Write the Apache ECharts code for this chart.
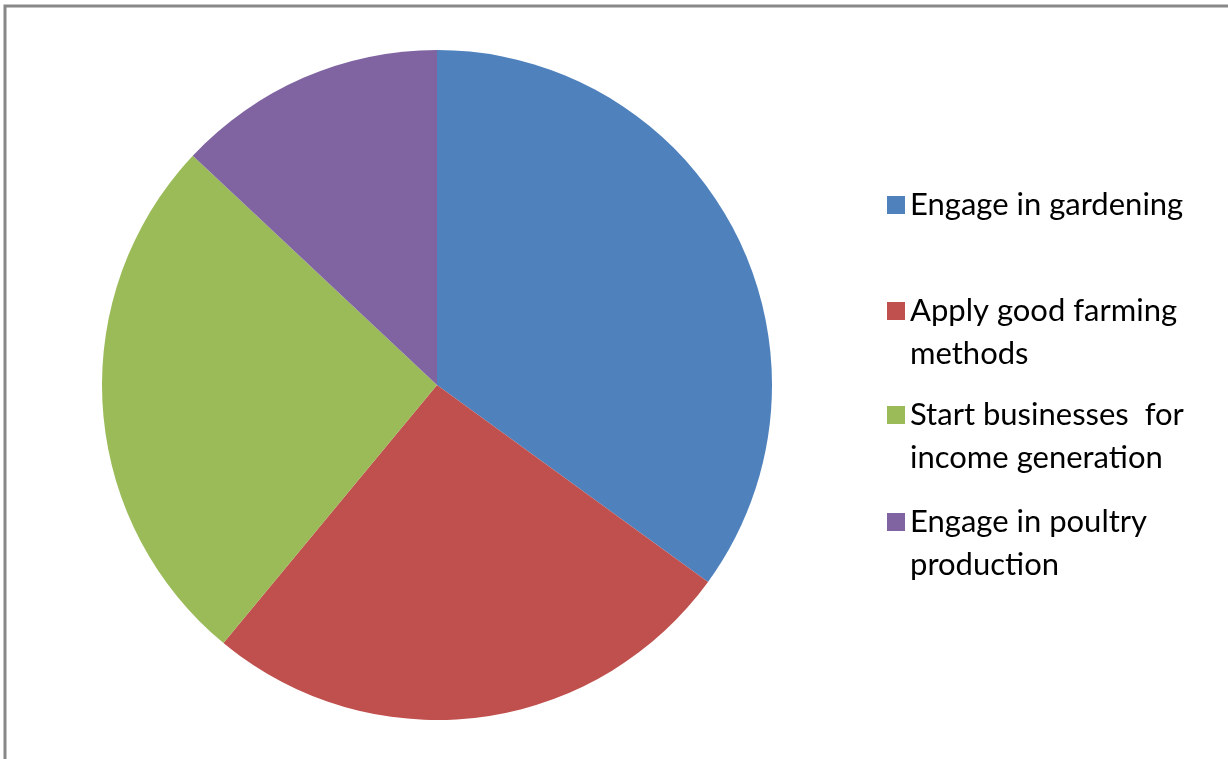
<!DOCTYPE html>
<html>
<head>
<meta charset="utf-8">
<script src="https://cdn.jsdelivr.net/npm/echarts@6/dist/echarts.min.js"></script>
<style>html,body{margin:0;padding:0;background:#fff}#c{width:1228px;height:759px}</style>
</head>
<body>
<div id="c"></div>
<script>
const categories = ['Engage in gardening', 'Apply good farming methods', 'Start businesses  for income generation', 'Engage in poultry production'];
const legendLabels = ['Engage in gardening', 'Apply good farming\nmethods', 'Start businesses  for\nincome generation', 'Engage in poultry\nproduction'];
const values = [35, 26, 26, 13];
const colors = ['#4F81BD', '#C0504D', '#9BBB59', '#8064A2'];

const chart = echarts.init(document.getElementById('c'), null, {renderer: 'canvas'});
const markerY = [205, 311, 415, 522];
const legends = categories.map((name, i) => {
  const multi = legendLabels[i].includes('\n');
  return {
    data: [name],
    orient: 'vertical',
    left: 887,
    top: multi ? markerY[i] - 64.5 : markerY[i] - 21.5,
    padding: 0,
    itemWidth: 18,
    itemHeight: 18,
    icon: 'rect',
    formatter: () => multi ? ' \n' + legendLabels[i] : legendLabels[i],
    selectedMode: false,
    textStyle: {
      fontFamily: 'Lato',
      fontSize: 31,
      lineHeight: 43,
      color: '#000'
    }
  };
});
chart.setOption({
  animation: false,
  color: colors,
  graphic: [{
    type: 'rect',
    shape: {x: 5, y: 6, width: 1400, height: 900},
    style: {fill: 'none', stroke: '#888', lineWidth: 3},
    silent: true
  }],
  legend: legends,
  series: [{
    type: 'pie',
    center: [437, 385],
    radius: 335,
    startAngle: 90,
    clockwise: true,
    label: {show: false},
    labelLine: {show: false},
    itemStyle: {borderWidth: 0},
    emphasis: {disabled: true},
    data: categories.map((n, i) => ({name: n, value: values[i]}))
  }]
});
</script>
</body>
</html>
